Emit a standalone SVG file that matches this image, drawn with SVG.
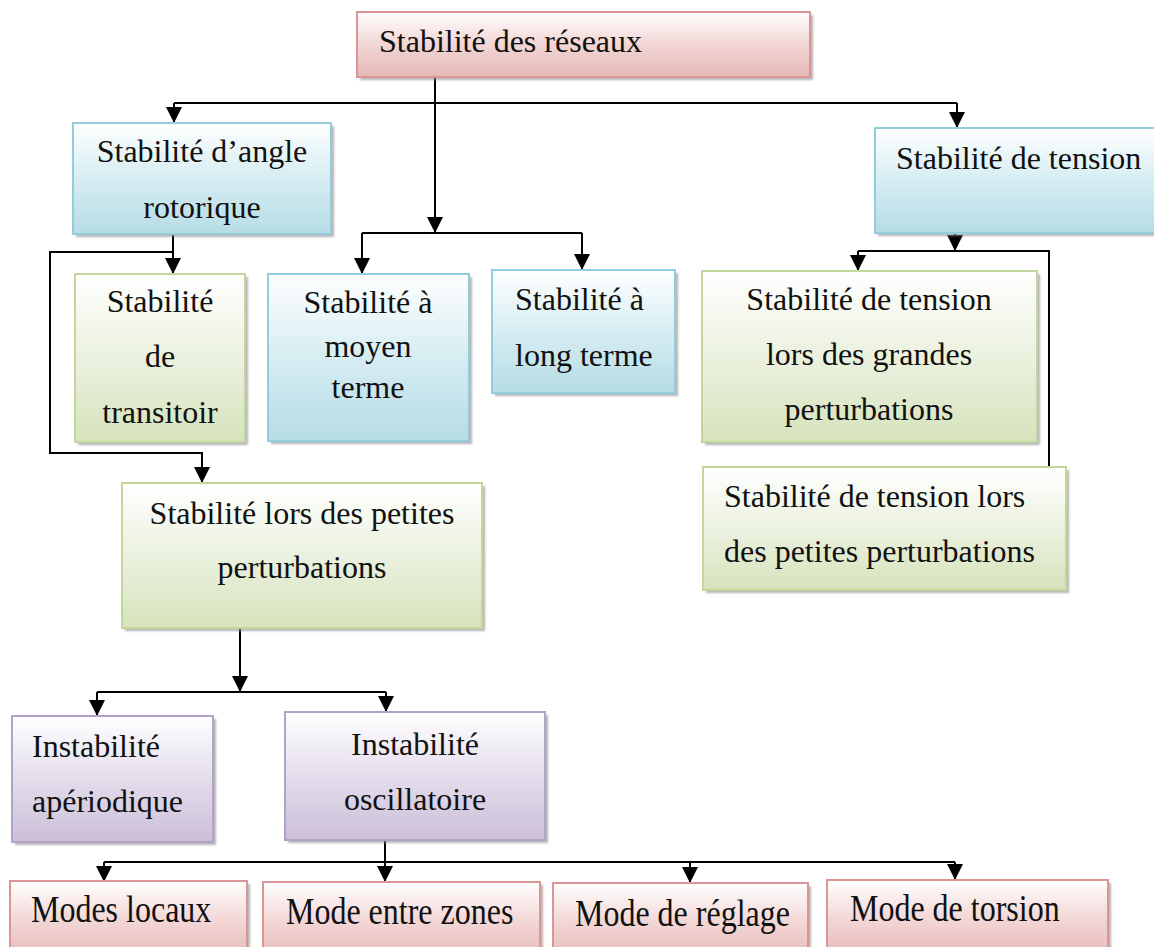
<svg xmlns="http://www.w3.org/2000/svg" width="1154" height="947" viewBox="0 0 1154 947">
<style>
text{font-family:"Liberation Serif","Times New Roman",serif;font-size:32px;fill:#111}
.c{text-anchor:middle}
.sh{fill:#8c8c8c;opacity:.65;filter:url(#blur)}
.pink{fill:url(#gPink);stroke:#d99694;stroke-width:2}
.blue{fill:url(#gBlue);stroke:#93cddd;stroke-width:2}
.green{fill:url(#gGreen);stroke:#c3d69b;stroke-width:2}
.purple{fill:url(#gPurple);stroke:#b3a2c7;stroke-width:2}
#connectors path{fill:none;stroke:#000;stroke-width:2}
.a{marker-end:url(#ah)}
</style>
<defs>
<filter id="blur" x="-5%" y="-5%" width="110%" height="110%"><feGaussianBlur stdDeviation="1"/></filter>
<linearGradient id="gPink" x1="0" y1="0" x2="0" y2="1"><stop offset="0" stop-color="#ffffff"/><stop offset="0.5" stop-color="#f2d6d5"/><stop offset="1" stop-color="#e5b7b6"/></linearGradient>
<linearGradient id="gBlue" x1="0" y1="0" x2="0" y2="1"><stop offset="0" stop-color="#ffffff"/><stop offset="0.5" stop-color="#d6edf2"/><stop offset="1" stop-color="#b6dce6"/></linearGradient>
<linearGradient id="gGreen" x1="0" y1="0" x2="0" y2="1"><stop offset="0" stop-color="#ffffff"/><stop offset="0.5" stop-color="#ebf1df"/><stop offset="1" stop-color="#d6e3bc"/></linearGradient>
<linearGradient id="gPurple" x1="0" y1="0" x2="0" y2="1"><stop offset="0" stop-color="#ffffff"/><stop offset="0.5" stop-color="#e4ddec"/><stop offset="1" stop-color="#cbbfd9"/></linearGradient>
<marker id="ah" viewBox="0 0 10 10" refX="10" refY="5" markerWidth="16" markerHeight="16" markerUnits="userSpaceOnUse" orient="auto"><path d="M0,0 L10,5 L0,10 z" fill="#000"/></marker>
</defs>

<g id="connectors">
<path d="M435,77 V233" class="a"/>
<path d="M174,103 H957"/>
<path d="M174,103 V123" class="a"/>
<path d="M957,103 V128" class="a"/>
<path d="M362,233 H582"/>
<path d="M362,233 V274" class="a"/>
<path d="M582,233 V270" class="a"/>
<path d="M173,234 V274" class="a"/>
<path d="M173,252 H50 V453 H202 V483" class="a"/>
<path d="M240,628 V692" class="a"/>
<path d="M97,692 H386"/>
<path d="M97,692 V716" class="a"/>
<path d="M386,692 V712" class="a"/>
<path d="M385,840 V882" class="a"/>
<path d="M104,862 H955"/>
<path d="M104,862 V882" class="a"/>
<path d="M690,862 V883" class="a"/>
<path d="M955,862 V880" class="a"/>
<path d="M955,233 V251" class="a"/>
<path d="M858,251 H1049 V467"/>
<path d="M858,251 V271" class="a"/>
</g>

<g id="n-reseaux">
<rect class="sh" x="360" y="15" width="453" height="65"/>
<rect class="pink" x="357" y="12" width="453" height="65"/>
<text x="379" y="52">Stabilité des réseaux</text>
</g>

<g id="n-angle">
<rect class="sh" x="76" y="126" width="258" height="111"/>
<rect class="blue" x="73" y="123" width="258" height="111"/>
<text class="c" x="202" y="162">Stabilité d’angle</text>
<text class="c" x="202" y="218">rotorique</text>
</g>

<g id="n-transitoir">
<rect class="sh" x="78" y="277" width="170" height="168"/>
<rect class="green" x="75" y="274" width="170" height="168"/>
<text class="c" x="160" y="312">Stabilité</text>
<text class="c" x="160" y="367">de</text>
<text class="c" x="160" y="423">transitoir</text>
</g>

<g id="n-moyen">
<rect class="sh" x="271" y="277" width="201" height="167"/>
<rect class="blue" x="268" y="274" width="201" height="167"/>
<text class="c" x="368" y="313">Stabilité à</text>
<text class="c" x="368" y="357">moyen</text>
<text class="c" x="368" y="398">terme</text>
</g>

<g id="n-long">
<rect class="sh" x="495" y="273" width="183" height="123"/>
<rect class="blue" x="492" y="270" width="183" height="123"/>
<text x="515" y="310">Stabilité à</text>
<text x="515" y="366">long terme</text>
</g>

<g id="n-petites-angle">
<rect class="sh" x="125" y="486" width="360" height="145"/>
<rect class="green" x="122" y="483" width="360" height="145"/>
<text class="c" x="302" y="524">Stabilité lors des petites</text>
<text class="c" x="302" y="578">perturbations</text>
</g>

<g id="n-tension">
<rect class="sh" x="878" y="131" width="285" height="105"/>
<rect class="blue" x="875" y="128" width="285" height="105"/>
<text x="896" y="169">Stabilité de tension</text>
</g>

<g id="n-grandes">
<rect class="sh" x="705" y="274" width="335" height="171"/>
<rect class="green" x="702" y="271" width="335" height="171"/>
<text class="c" x="869" y="310">Stabilité de tension</text>
<text class="c" x="869" y="365">lors des grandes</text>
<text class="c" x="869" y="420">perturbations</text>
</g>

<g id="n-tension-petites">
<rect class="sh" x="706" y="470" width="363" height="123"/>
<rect class="green" x="703" y="467" width="363" height="123"/>
<text x="724" y="507">Stabilité de tension lors</text>
<text x="724" y="562">des petites perturbations</text>
</g>

<g id="n-aperiodique">
<rect class="sh" x="15" y="719" width="201" height="126"/>
<rect class="purple" x="12" y="716" width="201" height="126"/>
<text x="32" y="757">Instabilité</text>
<text x="32" y="812">apériodique</text>
</g>

<g id="n-oscillatoire">
<rect class="sh" x="288" y="715" width="260" height="128"/>
<rect class="purple" x="285" y="712" width="260" height="128"/>
<text class="c" x="415" y="755">Instabilité</text>
<text class="c" x="415" y="810">oscillatoire</text>
</g>

<g id="n-locaux">
<rect class="sh" x="13" y="884" width="237" height="80"/>
<rect class="pink" x="10" y="881" width="237" height="80"/>
<text transform="translate(31,922) scale(1,1.2)">Modes locaux</text>
</g>

<g id="n-entre-zones">
<rect class="sh" x="266" y="885" width="277" height="80"/>
<rect class="pink" x="263" y="882" width="277" height="80"/>
<text transform="translate(286,924) scale(1,1.2)">Mode entre zones</text>
</g>

<g id="n-reglage">
<rect class="sh" x="556" y="886" width="255" height="80"/>
<rect class="pink" x="553" y="883" width="255" height="80"/>
<text transform="translate(575,926) scale(1,1.2)">Mode de réglage</text>
</g>

<g id="n-torsion">
<rect class="sh" x="830" y="883" width="281" height="80"/>
<rect class="pink" x="827" y="880" width="281" height="80"/>
<text transform="translate(850,921) scale(1,1.2)">Mode de torsion</text>
</g>
</svg>
